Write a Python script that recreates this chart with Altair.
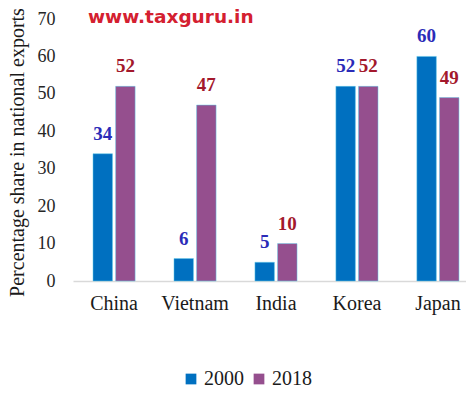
import altair as alt
import pandas as pd

countries = ["China", "Vietnam", "India", "Korea", "Japan"]
years = ["2000", "2018"]
share_2000 = [34, 6, 5, 52, 60]
share_2018 = [52, 47, 10, 52, 49]
y_ticks = [0, 10, 20, 30, 40, 50, 60, 70]

rows = []
for i, c in enumerate(countries):
    rows.append({"country": c, "year": "2000", "share": share_2000[i]})
    rows.append({"country": c, "year": "2018", "share": share_2018[i]})
df = pd.DataFrame(rows)

serif = "Liberation Serif"
bar_colors = ["#0070C0", "#954F8E"]
label_colors = ["#2B2BB8", "#A3182C"]

x_enc = alt.X("country:N", sort=countries,
              scale=alt.Scale(paddingInner=0.48, paddingOuter=0.167, align=0.74),
              axis=alt.Axis(title=None, labelFont=serif, labelFontSize=20, labelColor="#1a1a1a",
                            labelPadding=12, ticks=False, domainColor="#d9d9d9", domainWidth=1.5,
                            labelAngle=0))
xoff = alt.XOffset("year:N", sort=years, scale=alt.Scale(paddingInner=0.14))
y_enc = alt.Y("share:Q", scale=alt.Scale(domain=[0, 70], nice=False),
              axis=alt.Axis(values=y_ticks, grid=False, domain=False,
                            ticks=False, labelFont=serif, labelFontSize=18, labelColor="#262626",
                            labelPadding=18, labelOverlap=False,
                            title="Percentage share in national exports", titleFont=serif,
                            titleFontSize=20, titleFontWeight="normal", titleColor="#1a1a1a",
                            titleLimit=500, titleX=-46, titleY=133))

base = alt.Chart(df).encode(x=x_enc, xOffset=xoff, y=y_enc)

bars = base.mark_bar(stroke="#5ec8e8", strokeWidth=0.5).encode(
    color=alt.Color("year:N", sort=years, scale=alt.Scale(domain=years, range=bar_colors),
                    legend=alt.Legend(title=None, orient="none", direction="horizontal",
                                      legendX=108, legendY=350, symbolType="square",
                                      symbolSize=115, symbolStrokeWidth=0,
                                      labelFont=serif, labelFontSize=20, labelColor="#1a1a1a",
                                      columnPadding=5, labelOffset=3)),
)

def year_labels(year, color):
    return base.mark_text(
        font=serif, fontSize=19, fontWeight="bold", baseline="bottom", dy=-10, color=color
    ).encode(text="share:Q").transform_filter(alt.datum.year == year)

labels2000 = year_labels("2000", label_colors[0])
labels2018 = year_labels("2018", label_colors[1])

watermark = alt.Chart(pd.DataFrame({"t": ["www.taxguru.in"]})).mark_text(
    font="DejaVu Sans", fontSize=18.5, fontWeight="bold", color="#D42030", align="left", baseline="alphabetic"
).encode(x=alt.value(15), y=alt.value(4), text="t:N")

chart = alt.layer(bars, labels2000, labels2018, watermark).properties(
    width=393, height=262,
    autosize=alt.AutoSizeParams(type="none"),
    padding={"left": 65, "top": 11, "right": 0, "bottom": 112},
).configure_view(stroke=None)

chart.save("out.html", embed_options={"renderer": "svg", "actions": False})
